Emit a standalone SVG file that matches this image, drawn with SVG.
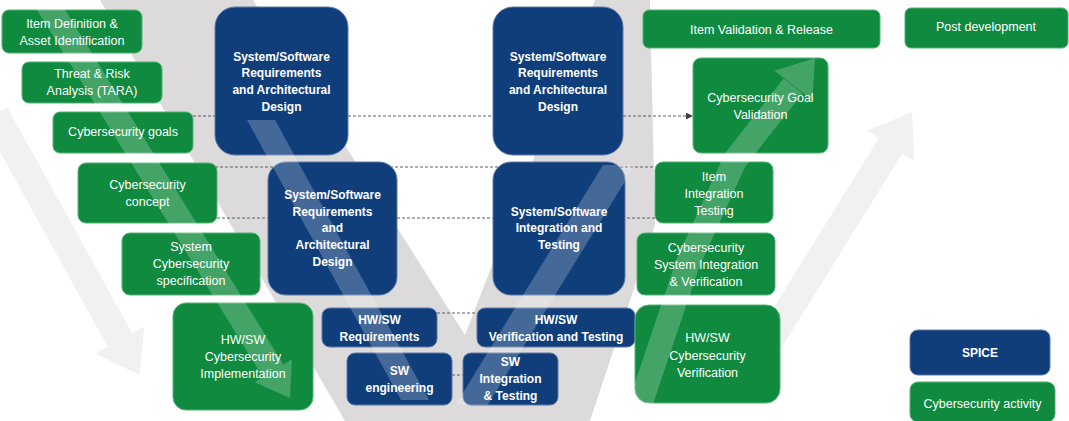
<svg xmlns="http://www.w3.org/2000/svg" width="1069" height="421" viewBox="0 0 1069 421">
<defs>
<style>
.g rect{fill:#0f8a3e;stroke:#52b372;stroke-width:1}
.b rect{fill:#0f3e7b;stroke:#5c79a8;stroke-width:1}
text{font-family:"Liberation Sans",Arial,sans-serif;fill:#ffffff;text-anchor:middle;dominant-baseline:central}
.g text{font-size:12.5px}
.b text{font-size:12px;font-weight:bold}
.c{stroke:#5b5f6a;stroke-width:1.2;stroke-dasharray:3 2;fill:none}
.pale{fill:#f1f1f1}
.vshape{fill:#dcdada}
.stripe{fill:#ffffff}
</style>
<marker id="ah" markerWidth="7" markerHeight="7" refX="6" refY="3.5" orient="auto" markerUnits="userSpaceOnUse">
<path d="M0,0 L7,3.5 L0,7 z" fill="#3c4150"/>
</marker>
</defs>
<rect x="0" y="0" width="1069" height="421" fill="#ffffff"/>
<g id="background">
<polygon class="vshape" points="100,0 253,0 465,335 595,0 650,0 655,225 590,421 345,421"/>
<polygon class="pale" points="7.25,107.2 132.25,333.2 144.5,326.45 139.4,375 95.5,353.55 107.75,346.8 -17.25,120.8"/>
<polygon class="pale" points="781.8,347.5 902.4,153.3 914.3,160.8 912,112 866.9,130.8 878.8,138.3 758.2,332.5"/>
</g>
<g id="connectors">
<line class="c" x1="193" y1="116" x2="215" y2="116"/>
<line class="c" x1="348" y1="116" x2="493" y2="116"/>
<line class="c" x1="623" y1="116" x2="692" y2="116" marker-end="url(#ah)"/>
<line class="c" x1="205" y1="167" x2="655" y2="167"/>
<line class="c" x1="217" y1="218" x2="655" y2="218"/>
<line class="c" x1="437" y1="313" x2="477" y2="313"/>
<line class="c" x1="452" y1="375" x2="463" y2="375"/>
</g>
<g id="item-definition" class="g"><rect x="2" y="10" width="140" height="43" rx="7"/><text x="72" y="24">Item Definition &amp;</text><text x="72" y="41">Asset Identification</text></g>
<g id="tara" class="g"><rect x="22" y="62" width="140" height="41" rx="7"/><text x="92" y="74">Threat &amp; Risk</text><text x="92" y="91">Analysis (TARA)</text></g>
<g id="cs-goals" class="g"><rect x="53" y="112" width="140" height="41" rx="7"/><text x="123" y="132">Cybersecurity goals</text></g>
<g id="cs-concept" class="g"><rect x="78" y="163" width="139" height="60" rx="8"/><text x="147.5" y="185">Cybersecurity</text><text x="147.5" y="202">concept</text></g>
<g id="sys-cs-spec" class="g"><rect x="122" y="233" width="138" height="62" rx="8"/><text x="191" y="247">System</text><text x="191" y="264">Cybersecurity</text><text x="191" y="281">specification</text></g>
<g id="hwsw-cs-impl" class="g"><rect x="173" y="303" width="140" height="107" rx="13"/><text x="243" y="340">HW/SW</text><text x="243" y="357">Cybersecurity</text><text x="243" y="374">Implementation</text></g>
<g id="sys-req-left" class="b"><rect x="215" y="7" width="133" height="148" rx="20"/><text x="281.5" y="57">System/Software</text><text x="281.5" y="73">Requirements</text><text x="281.5" y="90">and Architectural</text><text x="281.5" y="107">Design</text></g>
<g id="sys-req-arch" class="b"><rect x="268" y="162" width="129" height="133" rx="18"/><text x="332.5" y="195">System/Software</text><text x="332.5" y="212">Requirements</text><text x="332.5" y="228">and</text><text x="332.5" y="245">Architectural</text><text x="332.5" y="262">Design</text></g>
<g id="sys-req-right" class="b"><rect x="493" y="7" width="130" height="148" rx="20"/><text x="558" y="57">System/Software</text><text x="558" y="73">Requirements</text><text x="558" y="90">and Architectural</text><text x="558" y="107">Design</text></g>
<g id="sys-int-test" class="b"><rect x="493" y="162" width="132" height="133" rx="18"/><text x="559" y="212">System/Software</text><text x="559" y="228">Integration and</text><text x="559" y="245">Testing</text></g>
<g id="hwsw-req" class="b"><rect x="322" y="308" width="115" height="39" rx="8"/><text x="379.5" y="320">HW/SW</text><text x="379.5" y="337">Requirements</text></g>
<g id="hwsw-verif" class="b"><rect x="477" y="308" width="158" height="39" rx="8"/><text x="556" y="320">HW/SW</text><text x="556" y="337">Verification and Testing</text></g>
<g id="sw-eng" class="b"><rect x="347" y="353" width="105" height="52" rx="8"/><text x="399.5" y="371">SW</text><text x="399.5" y="388">engineering</text></g>
<g id="sw-int" class="b"><rect x="463" y="353" width="95" height="52" rx="8"/><text x="510.5" y="362">SW</text><text x="510.5" y="379">Integration</text><text x="510.5" y="396">&amp; Testing</text></g>
<g id="item-validation" class="g"><rect x="643" y="10" width="237" height="38" rx="6"/><text x="761.5" y="30">Item Validation &amp; Release</text></g>
<g id="post-dev" class="g"><rect x="905" y="8" width="163" height="40" rx="6"/><text x="986" y="27">Post development</text></g>
<g id="cs-goal-valid" class="g"><rect x="693" y="58" width="135" height="95" rx="8"/><text x="760.5" y="98">Cybersecurity Goal</text><text x="760.5" y="115">Validation</text></g>
<g id="item-int-test" class="g"><rect x="655" y="162" width="118" height="61" rx="8"/><text x="714" y="177">Item</text><text x="714" y="194">Integration</text><text x="714" y="211">Testing</text></g>
<g id="cs-sys-int" class="g"><rect x="637" y="233" width="138" height="62" rx="8"/><text x="706" y="248">Cybersecurity</text><text x="706" y="265">System Integration</text><text x="706" y="282">&amp; Verification</text></g>
<g id="hwsw-cs-verif" class="g"><rect x="635" y="305" width="145" height="98" rx="14"/><text x="707.5" y="338">HW/SW</text><text x="707.5" y="356">Cybersecurity</text><text x="707.5" y="373">Verification</text></g>
<g id="legend-spice" class="b"><rect x="910" y="330" width="140" height="45" rx="8"/><text x="980" y="353">SPICE</text></g>
<g id="legend-cs" class="g"><rect x="910" y="382" width="145" height="40" rx="8"/><text x="982.5" y="404">Cybersecurity activity</text></g>
<g id="overlay-stripes" opacity="0.22">
<polygon class="stripe" points="55.2,-6.3 283.4,364.4 291.9,359.2 290,398 254.5,382.2 263,377 34.8,6.3"/>
<polygon class="stripe" points="247,120 275,120 429,400 401,400"/>
<polygon class="stripe" points="455.5,405 487.5,405 635,165 603,165"/>
<path d="M640,405 L688,263 L735,160 L793,86" stroke="#ffffff" stroke-width="24" stroke-linejoin="round" fill="none"/>
<polygon class="stripe" points="774.5,70.7 815,58 812.3,100.3"/>
</g>
</svg>
